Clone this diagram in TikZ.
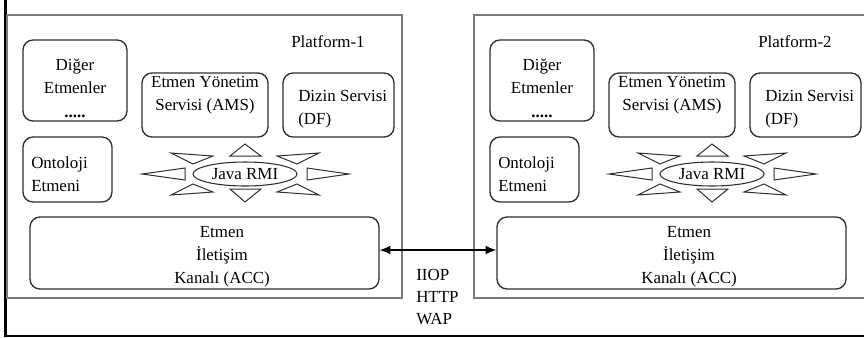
\documentclass[tikz,border=0pt]{standalone}
\usepackage{fontspec}
\setmainfont{Liberation Serif}
\usepackage{tikz}
\usetikzlibrary{arrows.meta, positioning, shapes.geometric}
\definecolor{platgray}{HTML}{7A7A7A}
\definecolor{boxline}{HTML}{2E2E2E}

\tikzset{
  platbox/.style={draw=platgray, line width=1.1pt, inner sep=0pt},
  agentbox/.style={draw=boxline, line width=1pt, rounded corners=7.5pt, inner sep=0pt},
  agenttext/.style={align=center, inner sep=0pt},
  rmiray/.style={draw=boxline, line width=0.75pt, fill=white},
}

\begin{document}
\begin{tikzpicture}[x=0.75pt,y=-0.75pt,font=\fontsize{12.7}{17.25}\selectfont]
    \clip (0,0) rectangle (864,337);
    % outer frame
    \draw[line width=2.4pt] (5.5,0) -- (5.5,337);
    \draw[line width=1.2pt] (4,336) -- (864,336);
    \foreach \p/\dx in {1/0,2/467}{
      \begin{scope}[shift={(\dx,0)}]
        \node[platbox, minimum width=296.25pt, minimum height=212.25pt] (plat\p) at (204.5,156.5) {};
        \node[agenttext] (name\p) at (328,42) {Platform-\p};
        % agents
        \node[agentbox, minimum width=78pt, minimum height=60.75pt] (other\p) at (75,80.5) {};
        \node[agenttext] (othertxt\p) at (75,76.5) {Diğer\\Etmenler};
        \node[agenttext] (dots\p) at (75,116) {\textbf{.....}};
        \node[agentbox, minimum width=94.5pt, minimum height=48pt] (ams\p) at (205,105) {};
        \node[agenttext] (amstxt\p) at (205,95) {Etmen Yönetim\\Servisi (AMS)};
        \node[agentbox, minimum width=83.25pt, minimum height=48pt] (df\p) at (338.5,105) {};
        \node[agenttext, align=left, anchor=west] (dftxt\p) at (298,109.5) {Dizin Servisi\\(DF)};
        \node[agentbox, minimum width=66.75pt, minimum height=48.75pt] (onto\p) at (67.5,169.5) {};
        \node[agenttext, align=left, anchor=west] (ontotxt\p) at (31,174) {Ontoloji\\Etmeni};
        \node[agentbox, minimum width=261.75pt, minimum height=54pt] (acc\p) at (204.5,253) {};
        \node[agenttext] (acctxt\p) at (222,257) {Etmen\\İletişim\\Kanalı (ACC)};
        % java rmi star
        \draw[rmiray] (142,174) -- (185,168) -- (185,180) -- cycle;
        \draw[rmiray] (349,174) -- (307,168) -- (307,180) -- cycle;
        \draw[rmiray] (245,144) -- (230,156) -- (261,156) -- cycle;
        \draw[rmiray] (245,202) -- (230,189) -- (261,189) -- cycle;
        \draw[rmiray] (171,153) -- (213,156) -- (193,164) -- cycle;
        \draw[rmiray] (319,153) -- (277,156) -- (297,164) -- cycle;
        \draw[rmiray] (171,195) -- (213,192) -- (193,184) -- cycle;
        \draw[rmiray] (319,195) -- (277,192) -- (297,184) -- cycle;
        \node[ellipse, draw=boxline, line width=0.8pt, fill=white, inner sep=0pt,
              minimum width=78pt, minimum height=18pt] (rmi\p) at (245,174) {Java RMI};
      \end{scope}
    }
    \draw[{Latex[length=8pt,width=6.5pt]}-{Latex[length=8pt,width=6.5pt]}, line width=0.8pt]
      ([yshift=2.25pt]acc1.east) -- ([yshift=2.25pt]acc2.west);
    \node[anchor=west, align=left, inner sep=0pt, font=\fontsize{12.7}{16.5}\selectfont] (proto) at (416,297) {IIOP\\HTTP\\WAP};
\end{tikzpicture}
\end{document}
